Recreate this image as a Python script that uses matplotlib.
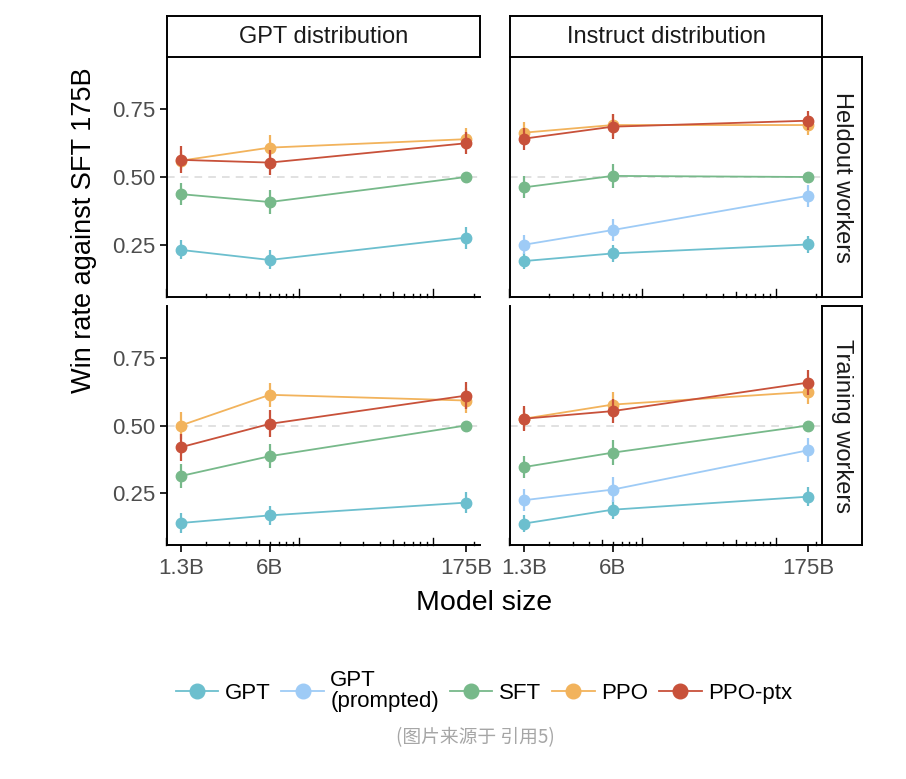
import matplotlib
matplotlib.use("Agg")
import matplotlib.pyplot as plt
import matplotlib.transforms as mtransforms
from matplotlib.lines import Line2D

plt.rcParams['font.family'] = ['Liberation Sans', 'DejaVu Sans']

# ---------------- data ----------------
sizes = [1.3, 6, 175]                      # model size in billions
size_labels = ["1.3B", "6B", "175B"]
series = ["GPT", "GPT\n(prompted)", "SFT", "PPO", "PPO-ptx"]
colors = ["#6CBFCE", "#9ECBF6", "#77B98A", "#F2B35C", "#C8513A"]
col_titles = ["GPT distribution", "Instruct distribution"]
row_titles = ["Heldout workers", "Training workers"]

# GPT distribution / Heldout workers
gd_held_gpt = [0.232, 0.195, 0.277]
gd_held_sft = [0.437, 0.408, 0.500]
gd_held_ppo = [0.560, 0.608, 0.639]
gd_held_ptx = [0.563, 0.553, 0.624]
gd_held_gpt_err = [0.035, 0.035, 0.040]
gd_held_sft_err = [0.040, 0.045, 0.0]
gd_held_ppo_err = [0.035, 0.045, 0.040]
gd_held_ptx_err = [0.050, 0.045, 0.040]

# Instruct distribution / Heldout workers
id_held_gpt = [0.191, 0.219, 0.252]
id_held_gptp = [0.251, 0.305, 0.431]
id_held_sft = [0.462, 0.504, 0.500]
id_held_ppo = [0.663, 0.691, 0.691]
id_held_ptx = [0.641, 0.685, 0.707]
id_held_gpt_err = [0.030, 0.030, 0.030]
id_held_gptp_err = [0.035, 0.040, 0.040]
id_held_sft_err = [0.040, 0.045, 0.0]
id_held_ppo_err = [0.040, 0.040, 0.035]
id_held_ptx_err = [0.040, 0.045, 0.035]

# GPT distribution / Training workers
gd_train_gpt = [0.141, 0.169, 0.216]
gd_train_sft = [0.314, 0.387, 0.500]
gd_train_ppo = [0.500, 0.613, 0.592]
gd_train_ptx = [0.420, 0.506, 0.610]
gd_train_gpt_err = [0.035, 0.035, 0.040]
gd_train_sft_err = [0.045, 0.045, 0.0]
gd_train_ppo_err = [0.050, 0.045, 0.045]
gd_train_ptx_err = [0.050, 0.050, 0.050]

# Instruct distribution / Training workers
id_train_gpt = [0.139, 0.190, 0.238]
id_train_gptp = [0.225, 0.264, 0.409]
id_train_sft = [0.347, 0.400, 0.500]
id_train_ppo = [0.525, 0.577, 0.624]
id_train_ptx = [0.525, 0.553, 0.658]
id_train_gpt_err = [0.030, 0.035, 0.035]
id_train_gptp_err = [0.040, 0.045, 0.045]
id_train_sft_err = [0.040, 0.045, 0.0]
id_train_ppo_err = [0.040, 0.045, 0.045]
id_train_ptx_err = [0.045, 0.045, 0.045]

panels = {
    (0, 0): [(gd_held_gpt, gd_held_gpt_err, 0), (gd_held_sft, gd_held_sft_err, 2),
             (gd_held_ppo, gd_held_ppo_err, 3), (gd_held_ptx, gd_held_ptx_err, 4)],
    (0, 1): [(id_held_gpt, id_held_gpt_err, 0), (id_held_gptp, id_held_gptp_err, 1),
             (id_held_sft, id_held_sft_err, 2), (id_held_ppo, id_held_ppo_err, 3),
             (id_held_ptx, id_held_ptx_err, 4)],
    (1, 0): [(gd_train_gpt, gd_train_gpt_err, 0), (gd_train_sft, gd_train_sft_err, 2),
             (gd_train_ppo, gd_train_ppo_err, 3), (gd_train_ptx, gd_train_ptx_err, 4)],
    (1, 1): [(id_train_gpt, id_train_gpt_err, 0), (id_train_gptp, id_train_gptp_err, 1),
             (id_train_sft, id_train_sft_err, 2), (id_train_ppo, id_train_ppo_err, 3),
             (id_train_ptx, id_train_ptx_err, 4)],
}
y_ticks = [0.25, 0.50, 0.75]
y_tick_labels = ["0.25", "0.50", "0.75"]

# ---------------- layout ----------------
W, H = 906, 779
fig = plt.figure(figsize=(W / 100, H / 100), dpi=100)
fig.patch.set_facecolor("white")

def fx(px):
    return px / W

def fy(px):
    return 1 - px / H

col_x = [(166.7, 480.0), (510.0, 822.3)]
row_y = [(57.3, 296.7), (306.0, 545.0)]
strip_top = (16.0, 57.3)
strip_right = (822.3, 862.3)

spine_lw = 1.4
tick_color = "#4D4D4D"

for (r, c), lines in panels.items():
    x0, x1 = col_x[c]
    y0, y1 = row_y[r]
    ax = fig.add_axes([fx(x0), fy(y1), fx(x1 - x0), (y1 - y0) / H])
    ax.set_xscale("log")
    ax.set_xlim(1.02, 223)
    ax.set_ylim(0.06, 0.94)
    ax.axhline(0.5, color="#D9D9D9", lw=1.1, ls=(0, (5, 4)), zorder=1)
    for vals, errs, si in lines:
        ax.errorbar(sizes, vals, yerr=errs, color=colors[si], lw=1.3,
                    elinewidth=1.6, marker="o", markersize=7.5, capsize=0,
                    zorder=3 + si)
    for s in ["top", "right"]:
        ax.spines[s].set_visible(False)
    for s in ["left", "bottom"]:
        ax.spines[s].set_linewidth(spine_lw)
        ax.spines[s].set_color("black")
    ax.set_xticks(sizes)
    ax.set_xticks([], minor=True)
    ax.set_yticks(y_ticks)
    if r == 1:
        ax.set_xticklabels(size_labels, fontsize=16, color=tick_color)
        ax.tick_params(axis="x", which="major", direction="out", length=5,
                       width=1.2, pad=4)
    else:
        ax.set_xticklabels([])
        ax.tick_params(axis="x", which="major", length=0, labelbottom=False)
    if c == 0:
        ax.set_yticklabels(y_tick_labels, fontsize=16, color=tick_color)
        ax.tick_params(axis="y", direction="out", length=5, width=1.2, pad=3)
    else:
        ax.tick_params(axis="y", length=0, labelleft=False)
    # log ticks (annotation_logticks style) drawn inside
    trans = mtransforms.blended_transform_factory(ax.transData, ax.transAxes)
    for dec in [1, 10, 100]:
        for m in range(1, 10):
            v = dec * m
            if v > 223:
                continue
            if m == 1:
                L = 7.5 / (y1 - y0)
            elif m == 5:
                L = 5.0 / (y1 - y0)
            else:
                L = 3.0 / (y1 - y0)
            ax.plot([v, v], [0, L], transform=trans, color="black", lw=1.0,
                    clip_on=False, zorder=2)
    ax.set_facecolor("white")

# strips on top
for c in range(2):
    x0, x1 = col_x[c]
    sa = fig.add_axes([fx(x0), fy(strip_top[1]), fx(x1 - x0), (strip_top[1] - strip_top[0]) / H])
    sa.set_xticks([]); sa.set_yticks([])
    for s in sa.spines.values():
        s.set_linewidth(spine_lw)
    sa.text(0.5, 0.5, col_titles[c], ha="center", va="center", fontsize=17,
            color="#1A1A1A", transform=sa.transAxes)

# strips on the right
for r in range(2):
    y0, y1 = row_y[r]
    sa = fig.add_axes([fx(strip_right[0]), fy(y1), fx(strip_right[1] - strip_right[0]), (y1 - y0) / H])
    sa.set_xticks([]); sa.set_yticks([])
    for s in sa.spines.values():
        s.set_linewidth(spine_lw)
    sa.text(0.5, 0.5, row_titles[r], ha="center", va="center", fontsize=17,
            color="#1A1A1A", rotation=-90, transform=sa.transAxes)

# axis titles
fig.text(fx(84), fy(230), "Win rate against SFT 175B", rotation=90,
         ha="center", va="center", fontsize=19.5, color="black")
fig.text(fx(484), fy(603), "Model size", ha="center", va="center",
         fontsize=20.5, color="black")

# legend
handles = [Line2D([0], [0], color=col, lw=1.3, marker="o", markersize=10.5)
           for col in colors]
leg = fig.legend(handles, series, loc="center", ncol=5,
                 bbox_to_anchor=(fx(484), fy(691)), frameon=False,
                 fontsize=16, handlelength=1.9, handletextpad=0.3,
                 columnspacing=0.5, borderaxespad=0, labelspacing=0.2)
for t in leg.get_texts():
    t.set_linespacing(0.95)
    t.set_multialignment("left")

# caption
fig.text(fx(475), fy(738), "(图片来源于 引用5)", ha="center", va="center",
         fontsize=13.5, color="#A6A6A6", family=["Noto Sans CJK SC", "DejaVu Sans"])

fig.savefig("out.png", dpi=100, facecolor="white")
